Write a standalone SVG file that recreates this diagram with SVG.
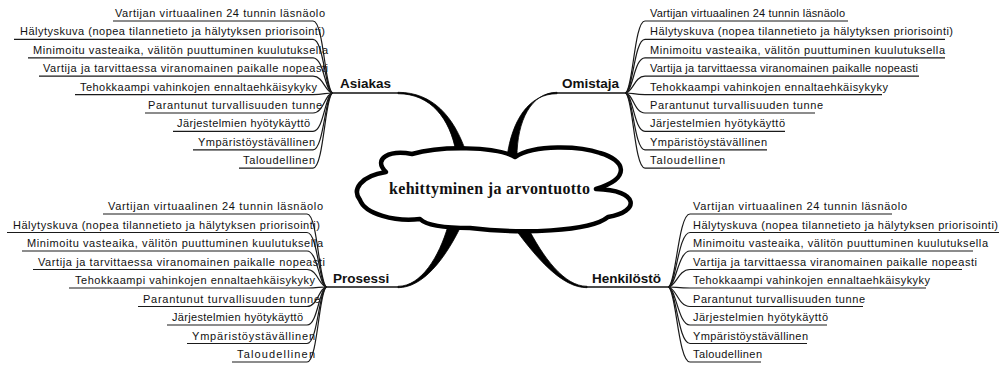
<svg xmlns="http://www.w3.org/2000/svg" width="999" height="365" viewBox="0 0 999 365">
<style>
.leaf{font-family:"Liberation Sans",Arial,sans-serif;font-size:11px;fill:#111}
.main{font-family:"Liberation Sans",Arial,sans-serif;font-size:13.5px;font-weight:bold;fill:#111}
.center{font-family:"Liberation Serif","Times New Roman",serif;font-size:16px;font-weight:bold;fill:#111}
.ln{fill:none;stroke:#1a1a1a;stroke-width:1.2}
.hl{fill:none;stroke:#111;stroke-width:1.6}
.thick{fill:#000;stroke:#000;stroke-width:0.8}
.cloud{fill:#fff;stroke:#000;stroke-width:4.5;stroke-linejoin:round}
</style>
<rect width="999" height="365" fill="#fff"/>
<g id="connectors">
  <!-- main branches -->
  <path class="hl" d="M333,93 H398"/>
  <path class="thick" d="M398,92.3 C433,92.3 454,117 466,152 L456,152 C450,119 431,93.7 398,93.7 Z"/>
  <path class="hl" d="M557,93 H625"/>
  <path class="thick" d="M557,92.3 C531,92.5 517,121 517,157 L507,157 C512,120 529,93.7 557,93.7 Z"/>
  <path class="hl" d="M327,287 H398"/>
  <path class="thick" d="M398,286.3 C421,286.3 439,257 448,226 L461,226 C445,259 423,287.7 398,287.7 Z"/>
  <path class="hl" d="M587,287 H668"/>
  <path class="thick" d="M587,286.3 C564,286.3 543,257 527,226 L513,226 C537,259 562,287.7 587,287.7 Z"/>
  <!-- Asiakas leaves -->
  <path class="ln" d="M113,21 H313 C324,21 325,93 333,93"/>
  <path class="ln" d="M14,39.4 H313 C324,39.4 325,93 333,93"/>
  <path class="ln" d="M28,57.8 H313 C324,57.8 325,93 333,93"/>
  <path class="ln" d="M39,76.2 H313 C324,76.2 325,93 333,93"/>
  <path class="ln" d="M75,94.6 H313 C324,94.6 325,93 333,93"/>
  <path class="ln" d="M145,113 H313 C324,113 325,93 333,93"/>
  <path class="ln" d="M173,131.4 H313 C324,131.4 325,93 333,93"/>
  <path class="ln" d="M193,149.8 H313 C324,149.8 325,93 333,93"/>
  <path class="ln" d="M239,168.2 H313 C324,168.2 325,93 333,93"/>
  <!-- Omistaja leaves -->
  <path class="ln" d="M625,93 C633,93 634,21 645,21 H848"/>
  <path class="ln" d="M625,93 C633,93 634,39.4 645,39.4 H945"/>
  <path class="ln" d="M625,93 C633,93 634,57.8 645,57.8 H945"/>
  <path class="ln" d="M625,93 C633,93 634,76.2 645,76.2 H919"/>
  <path class="ln" d="M625,93 C633,93 634,94.6 645,94.6 H882"/>
  <path class="ln" d="M625,93 C633,93 634,113 645,113 H815"/>
  <path class="ln" d="M625,93 C633,93 634,131.4 645,131.4 H785"/>
  <path class="ln" d="M625,93 C633,93 634,149.8 645,149.8 H767"/>
  <path class="ln" d="M625,93 C633,93 634,168.2 645,168.2 H720"/>
  <!-- Prosessi leaves -->
  <path class="ln" d="M103,214 H307 C318,214 319,287 327,287"/>
  <path class="ln" d="M7,232.5 H307 C318,232.5 319,287 327,287"/>
  <path class="ln" d="M22,251 H307 C318,251 319,287 327,287"/>
  <path class="ln" d="M33,269.5 H307 C318,269.5 319,287 327,287"/>
  <path class="ln" d="M69,288 H307 C318,288 319,287 327,287"/>
  <path class="ln" d="M138,306.5 H307 C318,306.5 319,287 327,287"/>
  <path class="ln" d="M167,325 H307 C318,325 319,287 327,287"/>
  <path class="ln" d="M187,343.5 H307 C318,343.5 319,287 327,287"/>
  <path class="ln" d="M232,362 H307 C318,362 319,287 327,287"/>
  <!-- Henkilöstö leaves -->
  <path class="ln" d="M668,287 C676,287 678,214 690,214 H892"/>
  <path class="ln" d="M668,287 C676,287 678,232.5 690,232.5 H1005"/>
  <path class="ln" d="M668,287 C676,287 678,251 690,251 H973"/>
  <path class="ln" d="M668,287 C676,287 678,269.5 690,269.5 H962"/>
  <path class="ln" d="M668,287 C676,287 678,288 690,288 H926"/>
  <path class="ln" d="M668,287 C676,287 678,306.5 690,306.5 H863"/>
  <path class="ln" d="M668,287 C676,287 678,325 690,325 H827"/>
  <path class="ln" d="M668,287 C676,287 678,343.5 690,343.5 H807"/>
  <path class="ln" d="M668,287 C676,287 678,362 690,362 H761"/>
</g>
<g id="center">
  <path class="cloud" d="M386,172 C372,158 390,150 412,154 C440,146 495,146 515,157 C535,144 580,146 600,153 C625,160 632,178 596,189 C640,190 640,212 608,217 C590,232 520,234 470,228 C440,228 425,224 420,219 C395,222 365,214 360,200 C352,190 360,176 386,172 Z"/>
  <text class="center" x="389" y="194" textLength="201" lengthAdjust="spacing">kehittyminen ja arvontuotto</text>
</g>
<g id="asiakas">
  <text class="main" x="340" y="88">Asiakas</text>
</g>
<g id="omistaja">
  <text class="main" x="562" y="88">Omistaja</text>
</g>
<g id="prosessi">
  <text class="main" x="333" y="283">Prosessi</text>
</g>
<g id="henkilosto">
  <text class="main" x="592" y="283">Henkilöstö</text>
</g>
<g id="asiakas-leaves">
  <text class="leaf" x="115" y="17" textLength="210" lengthAdjust="spacing">Vartijan virtuaalinen 24 tunnin läsnäolo</text>
  <text class="leaf" x="20" y="35.4" textLength="305" lengthAdjust="spacing">Hälytyskuva (nopea tilannetieto ja hälytyksen priorisointi)</text>
  <text class="leaf" x="33" y="53.8" textLength="295" lengthAdjust="spacing">Minimoitu vasteaika, välitön puuttuminen kuulutuksella</text>
  <text class="leaf" x="43" y="72.2" textLength="285" lengthAdjust="spacing">Vartija ja tarvittaessa viranomainen paikalle nopeasti</text>
  <text class="leaf" x="80" y="90.6" textLength="237" lengthAdjust="spacing">Tehokkaampi vahinkojen ennaltaehkäisykyky</text>
  <text class="leaf" x="148" y="109" textLength="174" lengthAdjust="spacing">Parantunut turvallisuuden tunne</text>
  <text class="leaf" x="177" y="127.4" textLength="133" lengthAdjust="spacing">Järjestelmien hyötykäyttö</text>
  <text class="leaf" x="198" y="145.8" textLength="117" lengthAdjust="spacing">Ympäristöystävällinen</text>
  <text class="leaf" x="243" y="164.2" textLength="72" lengthAdjust="spacing">Taloudellinen</text>
</g>
<g id="omistaja-leaves">
  <text class="leaf" x="650" y="17" textLength="195" lengthAdjust="spacing">Vartijan virtuaalinen 24 tunnin läsnäolo</text>
  <text class="leaf" x="650" y="35.4" textLength="303" lengthAdjust="spacing">Hälytyskuva (nopea tilannetieto ja hälytyksen priorisointi)</text>
  <text class="leaf" x="650" y="53.8" textLength="295" lengthAdjust="spacing">Minimoitu vasteaika, välitön puuttuminen kuulutuksella</text>
  <text class="leaf" x="650" y="72.2" textLength="268" lengthAdjust="spacing">Vartija ja tarvittaessa viranomainen paikalle nopeasti</text>
  <text class="leaf" x="650" y="90.6" textLength="238" lengthAdjust="spacing">Tehokkaampi vahinkojen ennaltaehkäisykyky</text>
  <text class="leaf" x="650" y="109" textLength="173" lengthAdjust="spacing">Parantunut turvallisuuden tunne</text>
  <text class="leaf" x="650" y="127.4" textLength="135" lengthAdjust="spacing">Järjestelmien hyötykäyttö</text>
  <text class="leaf" x="650" y="145.8" textLength="117" lengthAdjust="spacing">Ympäristöystävällinen</text>
  <text class="leaf" x="650" y="164.2" textLength="75" lengthAdjust="spacing">Taloudellinen</text>
</g>
<g id="prosessi-leaves">
  <text class="leaf" x="108" y="210" textLength="215" lengthAdjust="spacing">Vartijan virtuaalinen 24 tunnin läsnäolo</text>
  <text class="leaf" x="13" y="228.5" textLength="307" lengthAdjust="spacing">Hälytyskuva (nopea tilannetieto ja hälytyksen priorisointi)</text>
  <text class="leaf" x="27" y="247" textLength="296" lengthAdjust="spacing">Minimoitu vasteaika, välitön puuttuminen kuulutuksella</text>
  <text class="leaf" x="38" y="265.5" textLength="287" lengthAdjust="spacing">Vartija ja tarvittaessa viranomainen paikalle nopeasti</text>
  <text class="leaf" x="75" y="284" textLength="240" lengthAdjust="spacing">Tehokkaampi vahinkojen ennaltaehkäisykyky</text>
  <text class="leaf" x="143" y="302.5" textLength="177" lengthAdjust="spacing">Parantunut turvallisuuden tunne</text>
  <text class="leaf" x="172" y="321" textLength="131" lengthAdjust="spacing">Järjestelmien hyötykäyttö</text>
  <text class="leaf" x="192" y="339.5" textLength="123" lengthAdjust="spacing">Ympäristöystävällinen</text>
  <text class="leaf" x="237" y="358" textLength="78" lengthAdjust="spacing">Taloudellinen</text>
</g>
<g id="henkilosto-leaves">
  <text class="leaf" x="693" y="210" textLength="214" lengthAdjust="spacing">Vartijan virtuaalinen 24 tunnin läsnäolo</text>
  <text class="leaf" x="693" y="228.5" textLength="305" lengthAdjust="spacing">Hälytyskuva (nopea tilannetieto ja hälytyksen priorisointi)</text>
  <text class="leaf" x="693" y="247" textLength="295" lengthAdjust="spacing">Minimoitu vasteaika, välitön puuttuminen kuulutuksella</text>
  <text class="leaf" x="693" y="265.5" textLength="284" lengthAdjust="spacing">Vartija ja tarvittaessa viranomainen paikalle nopeasti</text>
  <text class="leaf" x="693" y="284" textLength="237" lengthAdjust="spacing">Tehokkaampi vahinkojen ennaltaehkäisykyky</text>
  <text class="leaf" x="693" y="302.5" textLength="172" lengthAdjust="spacing">Parantunut turvallisuuden tunne</text>
  <text class="leaf" x="693" y="321" textLength="135" lengthAdjust="spacing">Järjestelmien hyötykäyttö</text>
  <text class="leaf" x="693" y="339.5" textLength="115" lengthAdjust="spacing">Ympäristöystävällinen</text>
  <text class="leaf" x="693" y="358" textLength="69" lengthAdjust="spacing">Taloudellinen</text>
</g>
</svg>
